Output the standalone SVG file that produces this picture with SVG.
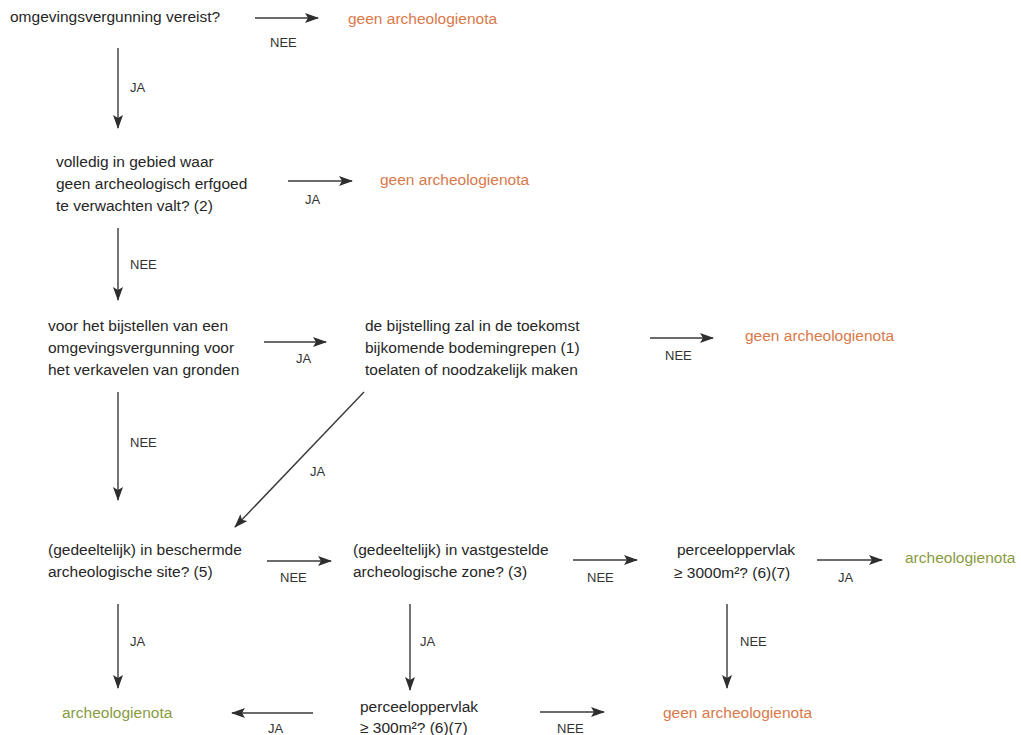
<svg xmlns="http://www.w3.org/2000/svg" width="1021" height="735" viewBox="0 0 1021 735">
<defs>
<style>
text{font-family:"Liberation Sans",Arial,sans-serif;font-size:15.5px;fill:#262626}
.lbl{font-size:13px;fill:#333}
.neg{fill:#d9794a}
.pos{fill:#889b41}
.con line{stroke:#3a3a3a;stroke-width:1.4;fill:none;marker-end:url(#ah)}
</style>
<marker id="ah" markerUnits="userSpaceOnUse" markerWidth="14" markerHeight="10" viewBox="0 0 14 10" refX="13" refY="5" orient="auto">
<path d="M0,0 L14,5 L0,10 L3,5 Z" fill="#2e2e2e"/>
</marker>
</defs>
<rect width="1021" height="735" fill="#fff"/>

<g id="n1"><text x="10" y="22">omgevingsvergunning vereist?</text></g>
<g id="n1no"><text class="neg" x="348" y="24">geen archeologienota</text></g>
<g id="n2"><text x="56" y="167">volledig in gebied waar</text><text x="56" y="189">geen archeologisch erfgoed</text><text x="56" y="211">te verwachten valt? (2)</text></g>
<g id="n2ja"><text class="neg" x="380" y="185">geen archeologienota</text></g>
<g id="n3"><text x="48" y="331">voor het bijstellen van een</text><text x="48" y="353">omgevingsvergunning voor</text><text x="48" y="375">het verkavelen van gronden</text></g>
<g id="n4"><text x="365" y="331">de bijstelling zal in de toekomst</text><text x="365" y="353">bijkomende bodemingrepen (1)</text><text x="365" y="375">toelaten of noodzakelijk maken</text></g>
<g id="n4no"><text class="neg" x="745" y="341">geen archeologienota</text></g>
<g id="n5"><text x="48" y="555">(gedeeltelijk) in beschermde</text><text x="48" y="577">archeologische site? (5)</text></g>
<g id="n6"><text x="353" y="555">(gedeeltelijk) in vastgestelde</text><text x="353" y="577">archeologische zone? (3)</text></g>
<g id="n7"><text x="677" y="555">perceeloppervlak</text><text x="674" y="578">≥ 3000m²? (6)(7)</text></g>
<g id="n7ja"><text class="pos" x="905" y="563">archeologienota</text></g>
<g id="n5ja"><text class="pos" x="62" y="718">archeologienota</text></g>
<g id="n8"><text x="360" y="712">perceeloppervlak</text><text x="360" y="733">≥ 300m²? (6)(7)</text></g>
<g id="n8no"><text class="neg" x="663" y="718">geen archeologienota</text></g>

<g id="connectors" class="con">
<line x1="255" y1="18" x2="318" y2="18"/>
<line x1="118" y1="48" x2="118" y2="128"/>
<line x1="288" y1="181" x2="352" y2="181"/>
<line x1="118" y1="228" x2="118" y2="300"/>
<line x1="264" y1="342" x2="326" y2="342"/>
<line x1="650" y1="338" x2="713" y2="338"/>
<line x1="118" y1="392" x2="118" y2="500"/>
<line x1="364" y1="392" x2="235" y2="527"/>
<line x1="267" y1="561" x2="331" y2="561"/>
<line x1="573" y1="560" x2="637" y2="560"/>
<line x1="817" y1="560" x2="882" y2="560"/>
<line x1="118" y1="604" x2="118" y2="688"/>
<line x1="410" y1="604" x2="410" y2="690"/>
<line x1="727" y1="604" x2="727" y2="688"/>
<line x1="313" y1="713" x2="232" y2="713"/>
<line x1="540" y1="712" x2="604" y2="712"/>
<g id="labels">
<text class="lbl" x="270" y="47">NEE</text>
<text class="lbl" x="130" y="92">JA</text>
<text class="lbl" x="305" y="204">JA</text>
<text class="lbl" x="130" y="269">NEE</text>
<text class="lbl" x="296" y="363">JA</text>
<text class="lbl" x="665" y="360">NEE</text>
<text class="lbl" x="130" y="447">NEE</text>
<text class="lbl" x="310" y="476">JA</text>
<text class="lbl" x="280" y="582">NEE</text>
<text class="lbl" x="587" y="582">NEE</text>
<text class="lbl" x="838" y="582">JA</text>
<text class="lbl" x="130" y="646">JA</text>
<text class="lbl" x="420" y="646">JA</text>
<text class="lbl" x="740" y="646">NEE</text>
<text class="lbl" x="268" y="733">JA</text>
<text class="lbl" x="557" y="733">NEE</text>
</g>
</g>
</svg>
